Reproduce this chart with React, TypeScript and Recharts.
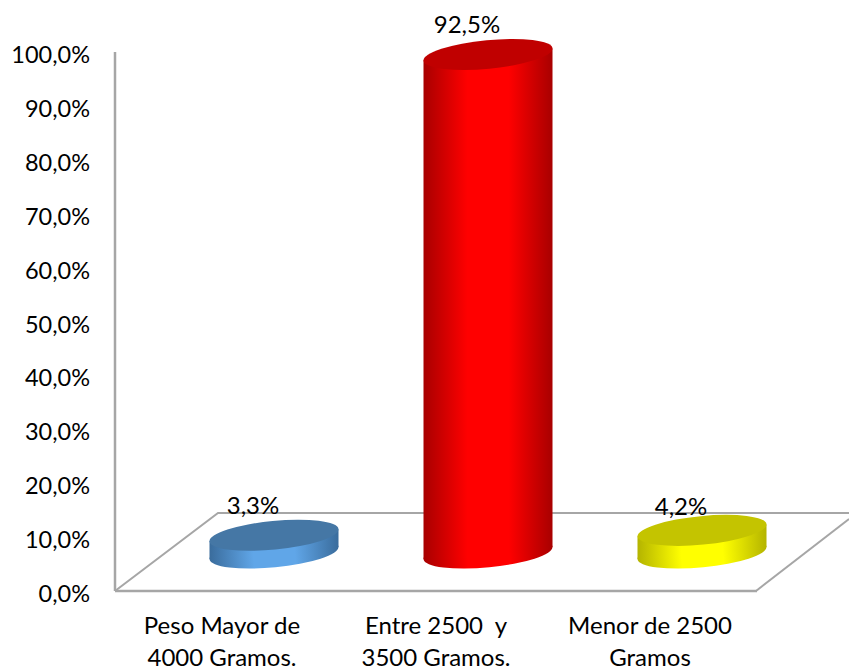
import React from "react";
import { BarChart, Bar, XAxis, YAxis, LabelList, Customized } from "recharts";

const categories = [
  "Peso Mayor de\n4000 Gramos.",
  "Entre 2500  y\n3500 Gramos.",
  "Menor de 2500\nGramos",
];
const values = [3.3, 92.5, 4.2];
const yTicks = [0, 10, 20, 30, 40, 50, 60, 70, 80, 90, 100];

const data = categories.map((name, i) => ({ name, value: values[i] }));

const palette = [
  { id: "blue", top: "#4577A5", edge: "#3A6C9C", mid: "#60A6E8" },
  { id: "red", top: "#C00000", edge: "#A80000", mid: "#FF0000" },
  { id: "yellow", top: "#C4C400", edge: "#B4B400", mid: "#FFFF00" },
];

const FONT = "Lato, sans-serif";
const AXIS = "#A6A6A6";
const SHIFT_X = 51.5; // fake 3d depth of the floor
const SHIFT_Y = -38;
const TILT = -5.5;
const RY = 14.3;
const labelDy = [31, 31, 24.5];

const pct = (v: number) => v.toFixed(1).replace(".", ",") + "%";

const Cylinder = (props: any) => {
  const { x, y, width, height, index } = props;
  const c = palette[index];
  const cx = x + width / 2 + SHIFT_X;
  const top = y + SHIFT_Y;
  const bottom = y + height + SHIFT_Y;
  const t = (TILT * Math.PI) / 180;
  const hw = width / 2;
  const a = Math.sqrt((hw * hw - RY * RY * Math.sin(t) ** 2) / Math.cos(t) ** 2);
  const dy = ((a * a - RY * RY) * Math.sin(t) * Math.cos(t)) / hw;
  const side = `M${cx - hw},${top - dy} L${cx + hw},${top + dy} L${cx + hw},${bottom + dy} L${cx - hw},${bottom - dy} Z`;
  return (
    <g>
      <ellipse cx={cx} cy={bottom} rx={a} ry={RY} transform={`rotate(${TILT} ${cx} ${bottom})`} fill={`url(#grad-${c.id})`} />
      <path d={side} fill={`url(#grad-${c.id})`} />
      <ellipse cx={cx} cy={top} rx={a} ry={RY} transform={`rotate(${TILT} ${cx} ${top})`} fill={c.top} />
    </g>
  );
};

const Floor = () => (
  <g stroke={AXIS} strokeWidth={2} fill="none">
    <path d="M115,591 L218,513 L849,513" />
    <path d="M756,591 L849,519" />
  </g>
);

const CategoryTick = (props: any) => {
  const { x, y, payload } = props;
  const lines = String(payload.value).split("\n");
  return (
    <text x={x} y={y} textAnchor="middle" fontFamily={FONT} fontSize={24} fill="#000" style={{ whiteSpace: "pre" }}>
      {lines.map((l, i) => (
        <tspan key={i} x={x} dy={i === 0 ? 35 : 32}>
          {l}
        </tspan>
      ))}
    </text>
  );
};

const ValueTick = (props: any) => {
  const { x, y, payload } = props;
  return (
    <text x={x} y={y + 2} textAnchor="end" dominantBaseline="central" fontFamily={FONT} fontSize={23.5} fill="#000">
      {pct(payload.value)}
    </text>
  );
};

const ValueLabel = (props: any) => {
  const { x, y, width, value, index } = props;
  return (
    <text
      x={x + width / 2 + SHIFT_X - 21}
      y={y + SHIFT_Y - labelDy[index]}
      textAnchor="middle"
      dominantBaseline="central"
      fontFamily={FONT}
      fontSize={24}
      fill="#000"
    >
      {pct(value)}
    </text>
  );
};

export default function App() {
  return (
    <div style={{ position: "absolute", left: 0, top: 0, width: 849, height: 670, background: "#fff" }}>
      <BarChart
        width={849}
        height={670}
        data={data}
        margin={{ top: 52, right: 92, bottom: 0, left: 0 }}
      >
        <defs>
          {palette.map((c) => (
            <linearGradient key={c.id} id={`grad-${c.id}`} x1="0" y1="0" x2="1" y2="0">
              <stop offset="0%" stopColor={c.edge} />
              <stop offset="34%" stopColor={c.mid} />
              <stop offset="66%" stopColor={c.mid} />
              <stop offset="100%" stopColor={c.edge} />
            </linearGradient>
          ))}
        </defs>
        <Customized component={<Floor />} />
        <XAxis
          dataKey="name"
          height={79}
          interval={0}
          tickLine={false}
          axisLine={{ stroke: AXIS, strokeWidth: 2.5 }}
          tick={<CategoryTick />}
        />
        <YAxis
          width={115}
          domain={[0, 100]}
          ticks={yTicks}
          interval={0}
          tickLine={false}
          tickMargin={19}
          axisLine={{ stroke: AXIS, strokeWidth: 2.5 }}
          tick={<ValueTick />}
        />
        <Bar dataKey="value" barSize={129} shape={<Cylinder />} isAnimationActive={false}>
          <LabelList dataKey="value" content={<ValueLabel />} />
        </Bar>
      </BarChart>
    </div>
  );
}
